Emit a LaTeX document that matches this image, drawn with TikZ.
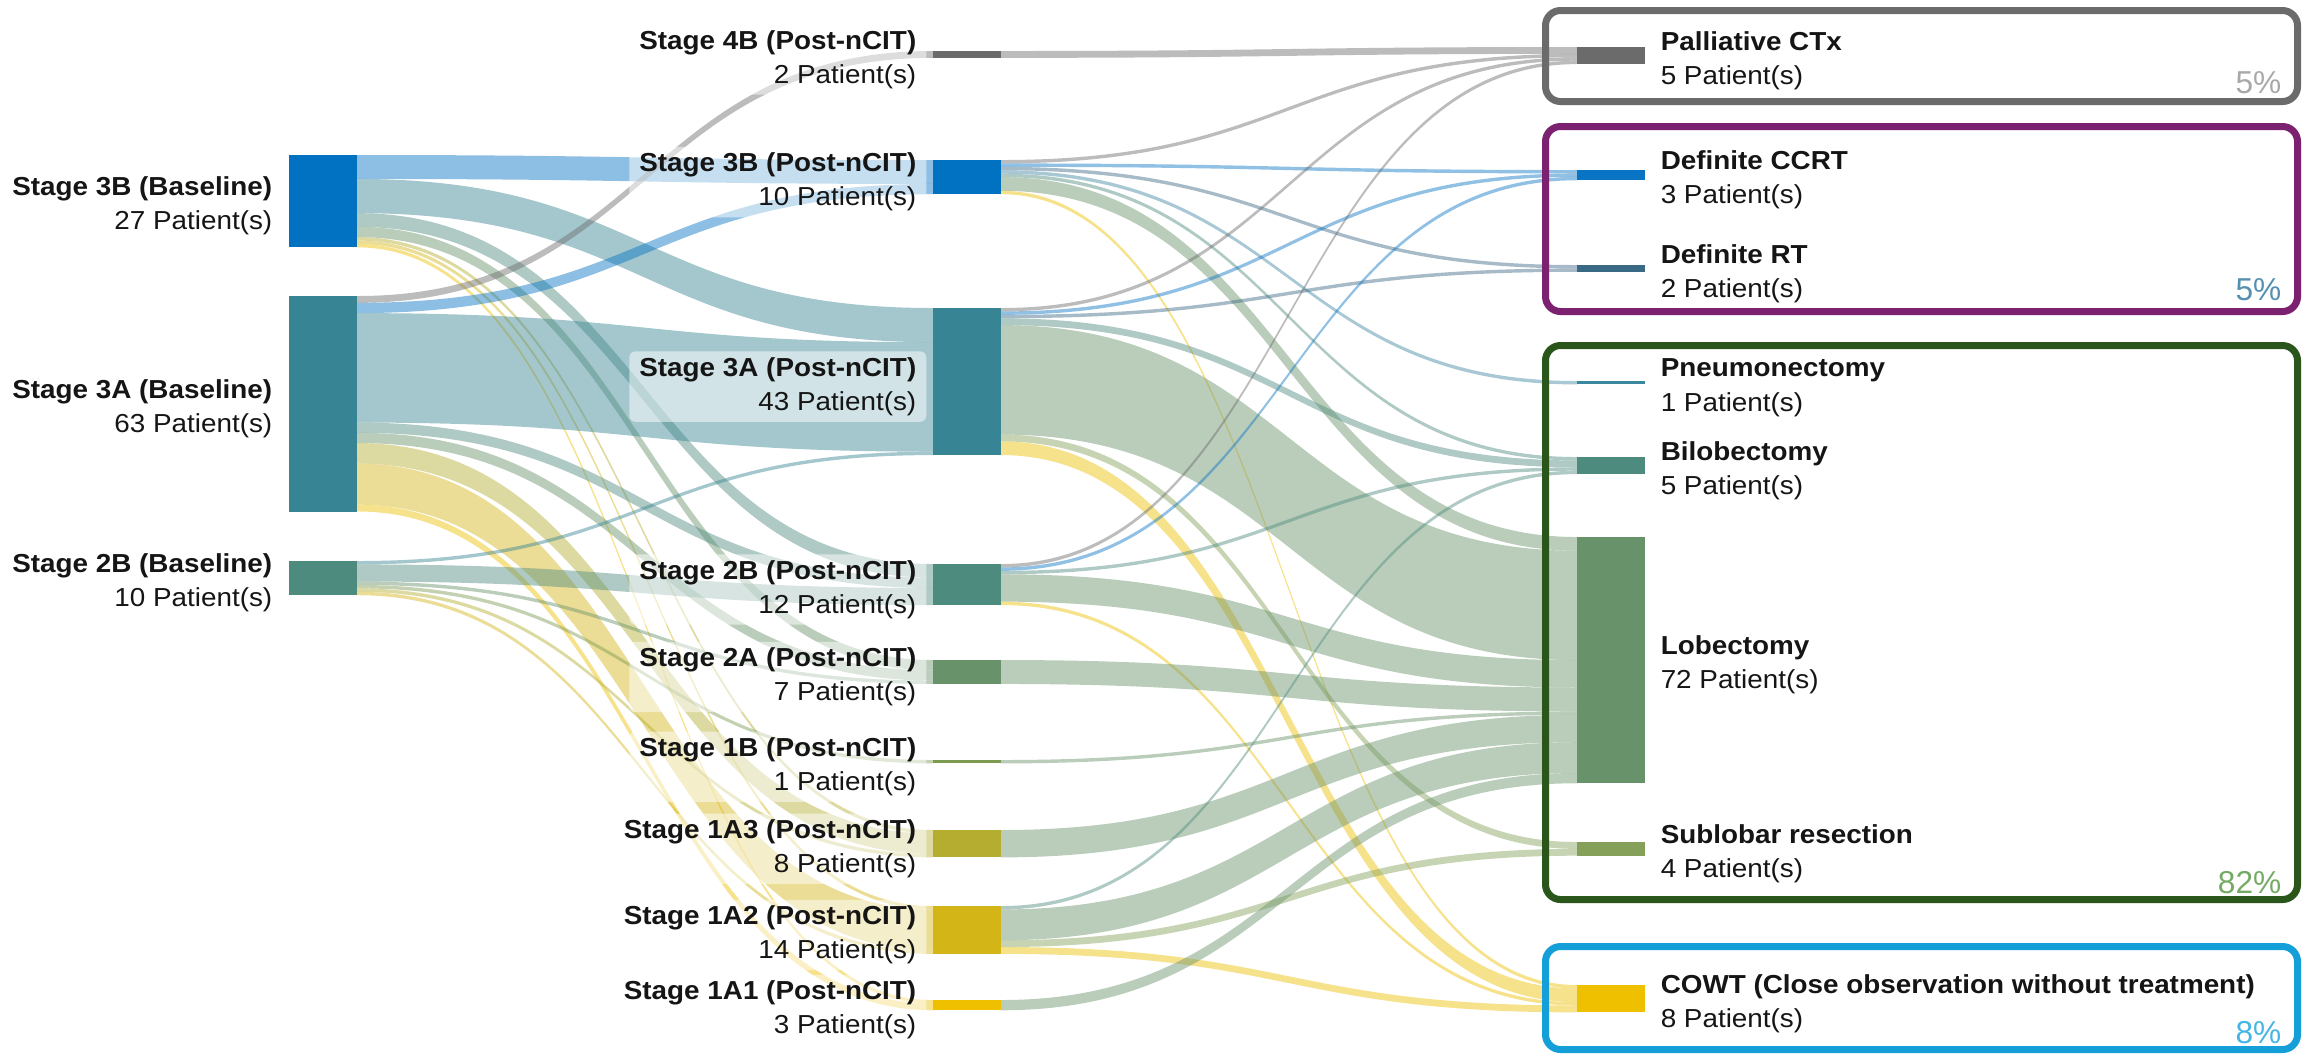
\documentclass[tikz,border=0pt]{standalone}
\usepackage{fontspec}
\setmainfont{Liberation Sans}[FakeStretch=1.07]
\newfontfamily\pctfam{Liberation Sans}
\usetikzlibrary{calc}
\definecolor{cB3}{HTML}{0072C1}
\definecolor{cA3}{HTML}{378494}
\definecolor{cB2}{HTML}{4E8B7F}
\definecolor{cB4}{HTML}{6B6B6B}
\definecolor{cA2}{HTML}{68926A}
\definecolor{cB1}{HTML}{7C9A50}
\definecolor{cA13}{HTML}{B5AD2F}
\definecolor{cA12}{HTML}{D4B518}
\definecolor{cA11}{HTML}{EEC000}
\definecolor{cPal}{HTML}{6B6B6B}
\definecolor{cCC}{HTML}{0A74C4}
\definecolor{cRT}{HTML}{3A6985}
\definecolor{cPn}{HTML}{3C87A0}
\definecolor{cBi}{HTML}{4E8B7F}
\definecolor{cLo}{HTML}{68926A}
\definecolor{cSu}{HTML}{84A059}
\definecolor{cCO}{HTML}{EEC000}
\definecolor{txt}{HTML}{151515}
\definecolor{bxGray}{HTML}{6B6B6B}
\definecolor{bxPurple}{HTML}{7B2170}
\definecolor{bxGreen}{HTML}{2B561B}
\definecolor{bxBlue}{HTML}{149FD8}
\definecolor{pGray}{HTML}{A8A8A8}
\definecolor{pBlue}{HTML}{5590B0}
\definecolor{pGreen}{HTML}{74AA64}
\definecolor{pCyan}{HTML}{45B5E4}
\newcommand\lblfont{\fontsize{7.4pt}{9.7pt}\selectfont}
\newcommand\pctfont{\pctfam\fontsize{9pt}{11pt}\selectfont}
\newcommand\barnode[5]{\node[barsty, fill=#5, minimum height=#4*0.0342cm] (#1) at (#2,#3) {};}
\newcommand\flow[6]{%
  \coordinate (fs1) at ($(#1.north east)+(0,#2*3.42)$);
  \coordinate (fs2) at ($(#1.north east)+(0,#2*3.42+#5*3.42)$);
  \coordinate (ft1) at ($(#3.north west)+(0,#4*3.42)$);
  \coordinate (ft2) at ($(#3.north west)+(0,#4*3.42+#5*3.42)$);
  \coordinate (fm) at ($(fs1)!0.5!(ft1)$);
  \fill[#6, fill opacity=0.45] (fs1) .. controls (fm |- fs1) and (fm |- ft1) .. (ft1) -- (ft2) .. controls (fm |- ft2) and (fm |- fs2) .. (fs2) -- cycle;}
\tikzset{
  barsty/.style={anchor=north west, inner sep=0pt, outer sep=0pt, minimum width=0.68cm},
  lbl/.style={inner xsep=0.1cm, inner ysep=0.06cm, rounded corners=0.06cm, fill=white, fill opacity=0.5, text opacity=1, text=txt, font=\lblfont},
  lblL/.style={lbl, anchor=east, align=right},
  lblR/.style={lbl, anchor=west, align=left},
  grp/.style={line width=0.07cm, rounded corners=0.15cm},
  pct/.style={anchor=base east, inner sep=0pt, font=\pctfont}
}
\begin{document}
\begin{tikzpicture}[x=0.01cm, y=-0.01cm]
\fill[white] (0,0) rectangle (2302,1053);
\useasboundingbox (0,0) rectangle (2302,1053);
% bars
\barnode{B3B}{289}{155}{27}{cB3}
\barnode{B3A}{289}{296}{63}{cA3}
\barnode{B2B}{289}{561}{10}{cB2}
\barnode{P4B}{933}{51}{2}{cB4}
\barnode{P3B}{933}{160}{10}{cB3}
\barnode{P3A}{933}{308}{43}{cA3}
\barnode{P2B}{933}{564}{12}{cB2}
\barnode{P2A}{933}{660}{7}{cA2}
\barnode{P1B}{933}{760}{1}{cB1}
\barnode{P1A3}{933}{830}{8}{cA13}
\barnode{P1A2}{933}{906}{14}{cA12}
\barnode{P1A1}{933}{1000}{3}{cA11}
\barnode{Pall}{1577}{47}{5}{cPal}
\barnode{CCRT}{1577}{170}{3}{cCC}
\barnode{RT}{1577}{265}{2}{cRT}
\barnode{Pneu}{1577}{381}{1}{cPn}
\barnode{Bilo}{1577}{457}{5}{cBi}
\barnode{Lobe}{1577}{537}{72}{cLo}
\barnode{Subl}{1577}{842}{4}{cSu}
\barnode{COWT}{1577}{985}{8}{cCO}
% stage 1 flows
\flow{B3B}{0}{P3B}{0}{7}{cB3}
\flow{B3B}{7}{P3A}{0}{10}{cA3}
\flow{B3B}{17}{P2B}{0}{4}{cB2}
\flow{B3B}{21}{P2A}{0}{3}{cA2}
\flow{B3B}{24}{P1A3}{0}{1}{cA13}
\flow{B3B}{25}{P1A2}{0}{1}{cA12}
\flow{B3B}{26}{P1A1}{0}{1}{cA11}
\flow{B3A}{0}{P4B}{0}{2}{cB4}
\flow{B3A}{2}{P3B}{7}{3}{cB3}
\flow{B3A}{5}{P3A}{10}{32}{cA3}
\flow{B3A}{37}{P2B}{4}{3}{cB2}
\flow{B3A}{40}{P2A}{3}{3}{cA2}
\flow{B3A}{43}{P1A3}{1}{6}{cA13}
\flow{B3A}{49}{P1A2}{1}{12}{cA12}
\flow{B3A}{61}{P1A1}{1}{2}{cA11}
\flow{B2B}{0}{P3A}{42}{1}{cA3}
\flow{B2B}{1}{P2B}{7}{5}{cB2}
\flow{B2B}{6}{P2A}{6}{1}{cA2}
\flow{B2B}{7}{P1B}{0}{1}{cB1}
\flow{B2B}{8}{P1A3}{7}{1}{cA13}
\flow{B2B}{9}{P1A2}{13}{1}{cA12}
% stage 2 flows
\flow{P4B}{0}{Pall}{0}{2}{cPal}
\flow{P3B}{0}{Pall}{2}{1}{cPal}
\flow{P3B}{1}{CCRT}{0}{1}{cCC}
\flow{P3B}{2}{RT}{0}{1}{cRT}
\flow{P3B}{3}{Pneu}{0}{1}{cPn}
\flow{P3B}{4}{Bilo}{0}{1}{cBi}
\flow{P3B}{5}{Lobe}{0}{4}{cLo}
\flow{P3B}{9}{COWT}{0}{1}{cCO}
\flow{P3A}{0}{Pall}{3}{1}{cPal}
\flow{P3A}{1}{CCRT}{1}{1}{cCC}
\flow{P3A}{2}{RT}{1}{1}{cRT}
\flow{P3A}{3}{Bilo}{1}{2}{cBi}
\flow{P3A}{5}{Lobe}{4}{32}{cLo}
\flow{P3A}{37}{Subl}{0}{2}{cSu}
\flow{P3A}{39}{COWT}{1}{4}{cCO}
\flow{P2B}{0}{Pall}{4}{1}{cPal}
\flow{P2B}{1}{CCRT}{2}{1}{cCC}
\flow{P2B}{2}{Bilo}{3}{1}{cBi}
\flow{P2B}{3}{Lobe}{36}{8}{cLo}
\flow{P2B}{11}{COWT}{5}{1}{cCO}
\flow{P2A}{0}{Lobe}{44}{7}{cLo}
\flow{P1B}{0}{Lobe}{51}{1}{cLo}
\flow{P1A3}{0}{Lobe}{52}{8}{cLo}
\flow{P1A2}{0}{Bilo}{4}{1}{cBi}
\flow{P1A2}{1}{Lobe}{60}{9}{cLo}
\flow{P1A2}{10}{Subl}{2}{2}{cSu}
\flow{P1A2}{12}{COWT}{6}{2}{cCO}
\flow{P1A1}{0}{Lobe}{69}{3}{cLo}
% labels left
\node[lblL] (tB3B) at ($(B3B.west)+(-6,5)$) {\textbf{Stage 3B (Baseline)}\\27 Patient(s)};
\node[lblL] (tB3A) at ($(B3A.west)+(-6,5)$) {\textbf{Stage 3A (Baseline)}\\63 Patient(s)};
\node[lblL] (tB2B) at ($(B2B.west)+(-6,5)$) {\textbf{Stage 2B (Baseline)}\\10 Patient(s)};
% labels middle
\node[lblL] (tP4B) at ($(P4B.west)+(-6,5)$) {\textbf{Stage 4B (Post-nCIT)}\\2 Patient(s)};
\node[lblL] (tP3B) at ($(P3B.west)+(-6,5)$) {\textbf{Stage 3B (Post-nCIT)}\\10 Patient(s)};
\node[lblL] (tP3A) at ($(P3A.west)+(-6,5)$) {\textbf{Stage 3A (Post-nCIT)}\\43 Patient(s)};
\node[lblL] (tP2B) at ($(P2B.west)+(-6,5)$) {\textbf{Stage 2B (Post-nCIT)}\\12 Patient(s)};
\node[lblL] (tP2A) at ($(P2A.west)+(-6,5)$) {\textbf{Stage 2A (Post-nCIT)}\\7 Patient(s)};
\node[lblL] (tP1B) at ($(P1B.west)+(-6,5)$) {\textbf{Stage 1B (Post-nCIT)}\\1 Patient(s)};
\node[lblL] (tP1A3) at ($(P1A3.west)+(-6,5)$) {\textbf{Stage 1A3 (Post-nCIT)}\\8 Patient(s)};
\node[lblL] (tP1A2) at ($(P1A2.west)+(-6,5)$) {\textbf{Stage 1A2 (Post-nCIT)}\\14 Patient(s)};
\node[lblL] (tP1A1) at ($(P1A1.west)+(-6,5)$) {\textbf{Stage 1A1 (Post-nCIT)}\\3 Patient(s)};
% labels right
\node[lblR] (tPall) at ($(Pall.east)+(5,5)$) {\textbf{Palliative CTx}\\5 Patient(s)};
\node[lblR] (tCCRT) at ($(CCRT.east)+(5,5)$) {\textbf{Definite CCRT}\\3 Patient(s)};
\node[lblR] (tRT) at ($(RT.east)+(5,5)$) {\textbf{Definite RT}\\2 Patient(s)};
\node[lblR] (tPneu) at ($(Pneu.east)+(5,5)$) {\textbf{Pneumonectomy}\\1 Patient(s)};
\node[lblR] (tBilo) at ($(Bilo.east)+(5,5)$) {\textbf{Bilobectomy}\\5 Patient(s)};
\node[lblR] (tLobe) at ($(Lobe.east)+(5,5)$) {\textbf{Lobectomy}\\72 Patient(s)};
\node[lblR] (tSubl) at ($(Subl.east)+(5,5)$) {\textbf{Sublobar resection}\\4 Patient(s)};
\node[lblR] (tCOWT) at ($(COWT.east)+(5,5)$) {\textbf{COWT (Close observation without treatment)}\\8 Patient(s)};
% group boxes
\draw[grp, bxGray] (1545.5,10.5) rectangle (2297.5,101.5);
\draw[grp, bxPurple] (1545.5,126.5) rectangle (2297.5,311.5);
\draw[grp, bxGreen] (1545.5,345.5) rectangle (2297.5,899.5);
\draw[grp, bxBlue] (1545.5,946.5) rectangle (2297.5,1049.5);
\node[pct, text=pGray] (pc1) at (2282,93) {5\%};
\node[pct, text=pBlue] (pc2) at (2282,300) {5\%};
\node[pct, text=pGreen] (pc3) at (2282,893) {82\%};
\node[pct, text=pCyan] (pc4) at (2282,1043) {8\%};
\end{tikzpicture}
\end{document}
